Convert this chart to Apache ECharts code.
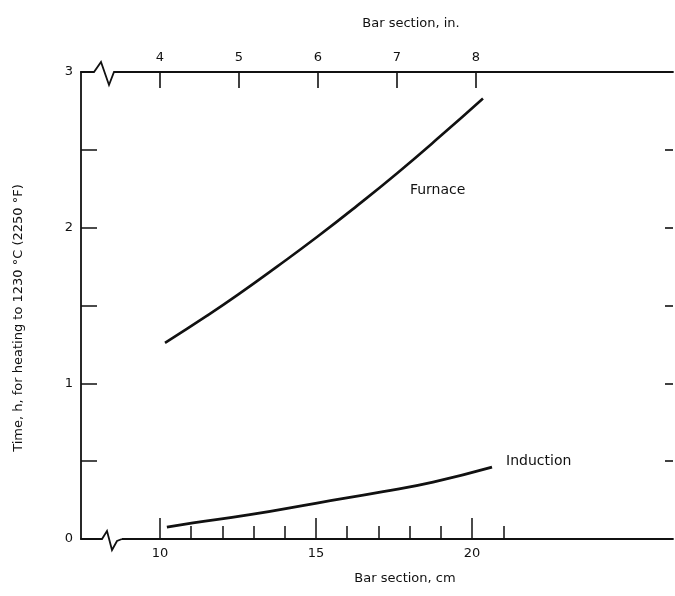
<!DOCTYPE html>
<html>
<head>
<meta charset="utf-8">
<script src="https://cdn.jsdelivr.net/npm/echarts@6/dist/echarts.min.js"></script>
<style>
html,body{margin:0;padding:0;background:#fff;}
#c{width:675px;height:596px;}
</style>
</head>
<body>
<div id="c"></div>
<script>
// ---- data (bar section in cm, time in h) ----
const furnaceX = [10.16, 11.51, 12.5, 13.75, 15.03, 16.31, 17.6, 18.97, 20.35];
const furnaceY = [1.26, 1.435, 1.57, 1.75, 1.94, 2.14, 2.35, 2.585, 2.83];
const inductionX = [10.22, 11.06, 12.88, 15.03, 17.15, 18.75, 20.64];
const inductionY = [0.077, 0.103, 0.156, 0.231, 0.304, 0.366, 0.462];
const cmTicks = [10, 11, 12, 13, 14, 15, 16, 17, 18, 19, 20, 21];
const cmMajorTicks = [10, 15, 20];
const cmLabels = [10, 15, 20];
const inTicks = [4, 5, 6, 7, 8];
const inLabels = [4, 5, 6, 7, 8];
const yLabels = [0, 1, 2, 3];
const yRightTicks = [0.5, 1, 1.5, 2, 2.5];
const seriesNames = ['Furnace', 'Induction'];
const labelPos = { Furnace: [18.01, 2.24], Induction: [21.09, 0.50] };
const yTitle = 'Time, h, for heating to 1230 °C (2250 °F)';
const topTitle = 'Bar section, in.';
const bottomTitle = 'Bar section, cm';

const FONT = 'DejaVu Sans';
const INK = '#111';

const chart = echarts.init(document.getElementById('c'), null, { renderer: 'canvas' });

function pairs(xs, ys) { return xs.map((x, i) => [x, ys[i]]); }

const option = {
  backgroundColor: '#fff',
  animation: false,
  textStyle: { fontFamily: FONT, color: INK },
  title: [
    { text: topTitle, left: 406, top: 12, textAlign: 'center',
      textStyle: { fontFamily: FONT, fontSize: 13, fontWeight: 'normal', color: INK } },
    { text: bottomTitle, left: 400, top: 567, textAlign: 'center',
      textStyle: { fontFamily: FONT, fontSize: 13, fontWeight: 'normal', color: INK } }
  ],
  grid: { left: 81, right: 2, top: 72, bottom: 57, containLabel: false },
  xAxis: [
    { type: 'value', position: 'bottom', min: 7.468, max: 26.44,
      axisLine: { show: true, lineStyle: { color: INK, width: 1.8 } },
      axisTick: { show: true, inside: true, length: 13, customValues: cmTicks, lineStyle: { color: INK, width: 1.5 } },
      axisLabel: { show: true, customValues: cmLabels, margin: 8, fontFamily: FONT, fontSize: 13, color: INK },
      splitLine: { show: false } },
    { type: 'value', position: 'bottom', min: 7.468, max: 26.44,
      axisLine: { show: false },
      axisTick: { show: true, inside: true, length: 21, customValues: cmMajorTicks, lineStyle: { color: INK, width: 1.5 } },
      axisLabel: { show: false },
      splitLine: { show: false } },
    { type: 'value', position: 'top', min: 3, max: 10.494,
      axisLine: { show: true, lineStyle: { color: INK, width: 1.8 } },
      axisTick: { show: true, inside: true, length: 16, customValues: inTicks, lineStyle: { color: INK, width: 1.6 } },
      axisLabel: { show: true, customValues: inLabels, margin: 8, fontFamily: FONT, fontSize: 13, color: INK },
      splitLine: { show: false } }
  ],
  yAxis: [
    { type: 'value', position: 'left', min: 0, max: 3, interval: 0.5,
      axisLine: { show: true, lineStyle: { color: INK, width: 1.8 } },
      axisTick: { show: true, inside: true, length: 16, lineStyle: { color: INK, width: 1.5 } },
      axisLabel: { show: true, customValues: yLabels, margin: 8, fontFamily: FONT, fontSize: 13, color: INK },
      splitLine: { show: false } },
    { type: 'value', position: 'right', min: 0, max: 3,
      axisLine: { show: false },
      axisTick: { show: true, inside: true, length: 8, customValues: yRightTicks, lineStyle: { color: INK, width: 1.6 } },
      axisLabel: { show: false },
      splitLine: { show: false } }
  ],
  series: [
    { name: seriesNames[0], type: 'line', xAxisIndex: 0, yAxisIndex: 0, smooth: true, showSymbol: false,
      data: pairs(furnaceX, furnaceY), lineStyle: { color: INK, width: 2.6 }, itemStyle: { color: INK },
      markPoint: { symbol: 'circle', symbolSize: 0, silent: true,
        data: [{ coord: labelPos.Furnace, label: { show: true, formatter: seriesNames[0], position: 'right', distance: 0,
          fontFamily: FONT, fontSize: 14, color: INK } }] } },
    { name: seriesNames[1], type: 'line', xAxisIndex: 0, yAxisIndex: 0, smooth: true, showSymbol: false,
      data: pairs(inductionX, inductionY), lineStyle: { color: INK, width: 2.8 }, itemStyle: { color: INK },
      markPoint: { symbol: 'circle', symbolSize: 0, silent: true,
        data: [{ coord: labelPos.Induction, label: { show: true, formatter: seriesNames[1], position: 'right', distance: 0,
          fontFamily: FONT, fontSize: 14, color: INK } }] } }
  ],
  graphic: [
    { type: 'text', x: 19, y: 318, rotation: Math.PI / 2,
      style: { text: yTitle, fontFamily: FONT, fontSize: 13, fill: INK, align: 'center', verticalAlign: 'middle' } },
    // axis break marks (decorative)
    { type: 'rect', shape: { x: 92, y: 69, width: 23, height: 6 }, style: { fill: '#fff' }, z: 100 },
    { type: 'polyline', shape: { points: [[91, 72], [94, 72], [101, 62], [109, 85], [114, 72], [117, 72]] },
      style: { stroke: INK, lineWidth: 1.8, fill: null }, z: 101 },
    { type: 'rect', shape: { x: 100, y: 536, width: 22, height: 6 }, style: { fill: '#fff' }, z: 100 },
    { type: 'polyline', shape: { points: [[99, 539], [102, 539], [107, 531], [112, 550], [117, 541], [122, 539]] },
      style: { stroke: INK, lineWidth: 1.8, fill: null }, z: 101 }
  ]
};
chart.setOption(option);
</script>
</body>
</html>
